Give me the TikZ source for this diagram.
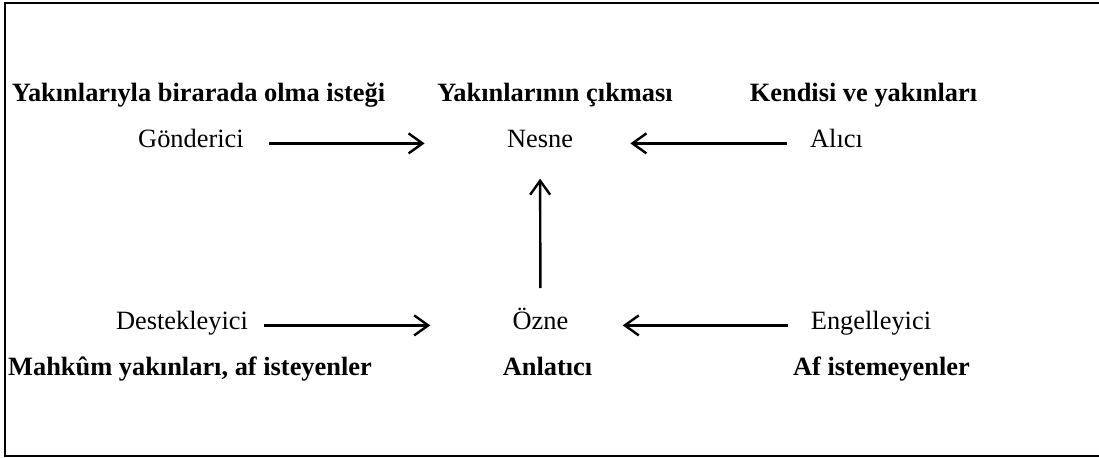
\documentclass[tikz,border=0pt]{standalone}
\usepackage{fontspec}
\setmainfont{Liberation Serif}
\usetikzlibrary{arrows.meta}
\tikzset{
  lbl/.style={inner sep=0pt,anchor=base,font=\fontsize{13.2}{16}\selectfont},
  boldlbl/.style={lbl,font=\fontsize{13.2}{16}\selectfont\bfseries},
  arr/.style={line width=1.2pt,-{Straight Barb[length=7pt,width=10pt]}}
}
\begin{document}
\begin{tikzpicture}[x=0.5pt,y=0.5pt]
\useasboundingbox (0,0) rectangle (1099,458);
\draw[line width=1pt] (5,2) rectangle (1112,454.5);
\node[boldlbl] (istek) at (198.5,356) {Yakınlarıyla birarada olma isteği};
\node[boldlbl] (cikma) at (555,356) {Yakınlarının çıkması};
\node[boldlbl] (kendi) at (863.5,356) {Kendisi ve yakınları};
\node[lbl] (gon) at (191,310) {Gönderici};
\node[lbl] (nesne) at (540,310) {Nesne};
\node[lbl] (alici) at (836.5,310) {Alıcı};
\node[lbl] (destek) at (182,128) {Destekleyici};
\node[lbl] (ozne) at (540.5,128) {Özne};
\node[lbl] (engel) at (871,128) {Engelleyici};
\node[boldlbl] (mahkum) at (190,82) {Mahkûm yakınları, af isteyenler};
\node[boldlbl] (anlatici) at (547.5,82) {Anlatıcı};
\node[boldlbl] (afist) at (881.5,82) {Af istemeyenler};
\draw[arr,shorten <=12.5pt,shorten >=41pt] (gon.mid east) -- (nesne.mid west);
\draw[arr,shorten <=11.5pt,shorten >=28.5pt] (alici.mid west) -- (nesne.mid east);
\draw[arr,shorten <=8pt,shorten >=41pt] (destek.mid east) -- (ozne.mid west);
\draw[arr,shorten <=11pt,shorten >=27pt] (engel.mid west) -- (ozne.mid east);
\draw[arr,shorten <=10pt,shorten >=15pt] (ozne.north) -- (nesne.south);
\end{tikzpicture}
\end{document}
